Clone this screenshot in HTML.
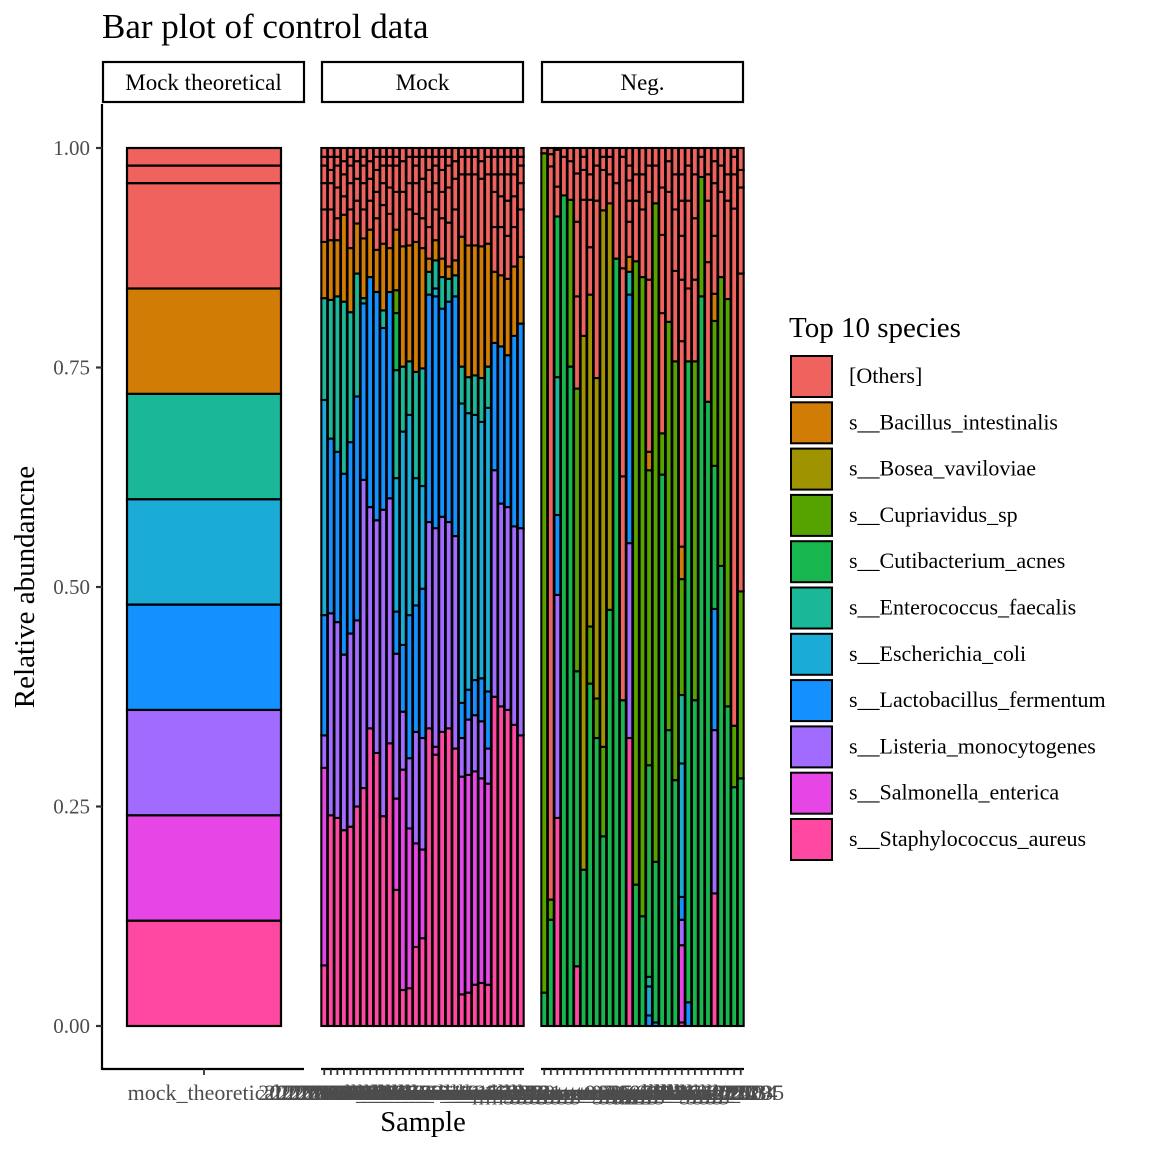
<!DOCTYPE html>
<html><head><meta charset="utf-8"><style>
html,body{margin:0;padding:0;background:#fff;}
svg{display:block;font-family:"Liberation Serif",serif;}
</style></head><body>
<svg id="chart" width="1152" height="1152" viewBox="0 0 1152 1152" xmlns="http://www.w3.org/2000/svg">
<text x="102" y="38" font-size="35" fill="#000">Bar plot of control data</text>
<g><rect x="103" y="62" width="201" height="40" fill="#fff" stroke="#000" stroke-width="2.2"/><text x="203.5" y="90" font-size="23" text-anchor="middle">Mock theoretical</text></g>
<g><rect x="322" y="62" width="201" height="40" fill="#fff" stroke="#000" stroke-width="2.2"/><text x="422.5" y="90" font-size="23" text-anchor="middle">Mock</text></g>
<g><rect x="542" y="62" width="201" height="40" fill="#fff" stroke="#000" stroke-width="2.2"/><text x="642.5" y="90" font-size="23" text-anchor="middle">Neg.</text></g>
<g id="yaxis"></g>
<g id="bars"></g>
<g id="xaxis"></g>
<text transform="translate(34,587) rotate(-90)" font-size="29" text-anchor="middle">Relative abundancne</text>
<text x="423" y="1131" font-size="28.5" text-anchor="middle">Sample</text>
<g id="legend"></g>
</svg>
<script>
const species = ["[Others]","s__Bacillus_intestinalis","s__Bosea_vaviloviae","s__Cupriavidus_sp","s__Cutibacterium_acnes","s__Enterococcus_faecalis","s__Escherichia_coli","s__Lactobacillus_fermentum","s__Listeria_monocytogenes","s__Salmonella_enterica","s__Staphylococcus_aureus"];
const colors = ["#F0625E","#D17C04","#A09300","#56A300","#18B64E","#1BB799","#1AABD6","#1490FF","#A26BFF","#E646E6","#FF48A2"];
const yTicks = [0,0.25,0.5,0.75,1];
const yTickLabels = ["0.00","0.25","0.50","0.75","1.00"];
// cumulative tops per bar: [speciesIndex, cumulativeAbundance]
const theoBars = [[[10,0.12],[9,0.24],[8,0.36],[7,0.48],[6,0.60],[5,0.72],[1,0.84],[0,0.96],[0,0.98],[0,1]]];
const theoLabels = ["mock_theoretical"];
const mockBars = [
[[10,0.069],[9,0.294],[8,0.331],[7,0.468],[6,0.713],[5,0.829],[1,0.893],[0,0.93],[0,0.96],[0,0.98],[0,0.99],[0,1]],
[[10,0.240],[8,0.470],[7,0.669],[5,0.827],[1,0.895],[0,0.93],[0,0.96],[0,0.975],[0,0.99],[0,1]],
[[10,0.237],[8,0.460],[7,0.654],[5,0.831],[1,0.895],[0,0.92],[0,0.955],[0,0.98],[0,0.99],[0,1]],
[[10,0.223],[8,0.423],[7,0.629],[5,0.825],[1,0.924],[0,0.945],[0,0.97],[0,0.985],[0,1]],
[[10,0.227],[8,0.447],[7,0.665],[5,0.813],[1,0.886],[0,0.93],[0,0.96],[0,0.98],[0,0.99],[0,1]],
[[10,0.250],[8,0.462],[7,0.717],[5,0.857],[1,0.914],[0,0.94],[0,0.965],[0,0.985],[0,1]],
[[10,0.271],[8,0.622],[7,0.823],[5,0.829],[1,0.897],[0,0.93],[0,0.96],[0,0.98],[0,0.99],[0,1]],
[[10,0.339],[8,0.591],[7,0.853],[1,0.907],[0,0.94],[0,0.965],[0,0.985],[0,1]],
[[10,0.311],[8,0.576],[7,0.836],[1,0.884],[0,0.92],[0,0.95],[0,0.975],[0,0.99],[0,1]],
[[10,0.239],[8,0.588],[7,0.795],[5,0.815],[1,0.891],[0,0.935],[0,0.96],[0,0.98],[0,0.99],[0,1]],
[[10,0.322],[8,0.601],[7,0.836],[1,0.886],[0,0.925],[0,0.955],[0,0.98],[0,0.99],[0,1]],
[[10,0.155],[9,0.259],[8,0.424],[7,0.472],[6,0.624],[5,0.747],[4,0.812],[3,0.838],[1,0.907],[0,0.95],[0,0.98],[0,0.99],[0,1]],
[[10,0.041],[9,0.292],[8,0.358],[7,0.434],[6,0.677],[5,0.751],[1,0.888],[0,0.95],[0,0.985],[0,1]],
[[10,0.043],[9,0.225],[8,0.305],[7,0.468],[6,0.696],[5,0.757],[1,0.889],[0,0.93],[0,0.96],[0,0.99],[0,1]],
[[10,0.090],[9,0.208],[8,0.335],[7,0.479],[6,0.624],[5,0.745],[1,0.893],[0,0.925],[0,0.96],[0,0.98],[0,0.99],[0,1]],
[[10,0.100],[9,0.201],[8,0.328],[7,0.498],[6,0.615],[5,0.749],[1,0.886],[0,0.92],[0,0.965],[0,0.99],[0,1]],
[[10,0.339],[8,0.574],[7,0.833],[5,0.859],[1,0.874],[0,0.91],[0,0.95],[0,0.975],[0,0.99],[0,1]],
[[10,0.309],[9,0.318],[8,0.567],[7,0.831],[6,0.840],[5,0.872],[1,0.895],[0,0.93],[0,0.96],[0,0.98],[0,0.99],[0,1]],
[[10,0.335],[8,0.580],[7,0.817],[5,0.853],[1,0.874],[0,0.92],[0,0.95],[0,0.975],[0,0.99],[0,1]],
[[10,0.339],[8,0.574],[7,0.825],[5,0.851],[1,0.865],[0,0.915],[0,0.955],[0,0.98],[0,0.99],[0,1]],
[[10,0.316],[8,0.558],[7,0.831],[5,0.855],[1,0.872],[0,0.93],[0,0.965],[0,0.985],[0,1]],
[[10,0.036],[9,0.284],[8,0.328],[7,0.368],[6,0.709],[5,0.751],[1,0.899],[0,0.97],[0,0.99],[0,1]],
[[10,0.038],[9,0.286],[8,0.349],[7,0.383],[6,0.698],[5,0.739],[1,0.889],[0,0.97],[0,0.99],[0,1]],
[[10,0.047],[9,0.290],[8,0.354],[7,0.394],[6,0.696],[5,0.741],[1,0.889],[0,0.97],[0,0.99],[0,1]],
[[10,0.049],[9,0.282],[8,0.347],[7,0.396],[6,0.688],[5,0.738],[1,0.888],[0,0.965],[0,0.985],[0,1]],
[[10,0.047],[9,0.276],[8,0.316],[7,0.381],[6,0.704],[5,0.751],[1,0.891],[0,0.97],[0,0.99],[0,1]],
[[10,0.375],[8,0.633],[7,0.778],[1,0.859],[0,0.91],[0,0.95],[0,0.97],[0,0.99],[0,1]],
[[10,0.364],[8,0.595],[7,0.774],[1,0.855],[0,0.91],[0,0.945],[0,0.97],[0,0.99],[0,1]],
[[10,0.360],[8,0.591],[7,0.764],[1,0.851],[0,0.90],[0,0.94],[0,0.97],[0,0.99],[0,1]],
[[10,0.343],[8,0.569],[7,0.786],[1,0.865],[0,0.91],[0,0.945],[0,0.97],[0,0.99],[0,1]],
[[10,0.331],[8,0.567],[7,0.800],[1,0.876],[0,0.93],[0,0.96],[0,0.98],[0,0.99],[0,1]]
];
const negBars = [
[[4,0.038],[3,0.994],[0,1]],
[[4,0.121],[3,0.144],[0,0.979],[0,0.993],[0,1]],
[[10,0.237],[8,0.491],[7,0.582],[5,0.739],[4,0.922],[0,0.956],[0,0.998],[0,1]],
[[4,0.946],[0,0.99],[0,1]],
[[4,0.751],[3,0.941],[0,0.985],[0,1]],
[[10,0.068],[4,0.404],[3,0.726],[0,0.831],[0,0.916],[0,0.971],[0,1]],
[[4,0.178],[2,0.786],[0,0.941],[0,0.975],[0,0.99],[0,1]],
[[4,0.390],[3,0.455],[2,0.833],[0,0.887],[0,0.941],[0,0.97],[0,1]],
[[4,0.328],[3,0.373],[2,0.738],[0,0.94],[0,0.98],[0,1]],
[[4,0.216],[3,0.318],[2,0.929],[0,0.975],[0,0.99],[0,1]],
[[4,0.474],[2,0.937],[0,0.97],[0,0.99],[0,1]],
[[4,0.874],[0,0.96],[0,1]],
[[4,0.371],[0,0.626],[0,0.863],[0,0.99],[0,1]],
[[10,0.328],[8,0.550],[7,0.833],[5,0.859],[1,0.876],[0,0.916],[0,0.94],[0,0.963],[0,0.98],[0,1]],
[[4,0.161],[3,0.871],[0,0.94],[0,0.97],[0,1]],
[[4,0.125],[3,0.853],[0,0.93],[0,0.97],[0,1]],
[[7,0.012],[6,0.045],[5,0.056],[4,0.297],[3,0.633],[1,0.654],[0,0.85],[0,0.95],[0,0.98],[0,1]],
[[7,0.004],[4,0.187],[3,0.937],[0,0.98],[0,1]],
[[4,0.628],[3,0.675],[0,0.812],[0,0.901],[0,0.955],[0,1]],
[[4,0.337],[3,0.802],[0,0.95],[0,0.985],[0,1]],
[[4,0.280],[3,0.757],[0,0.86],[0,0.93],[0,0.97],[0,1]],
[[10,0.004],[9,0.092],[8,0.121],[7,0.147],[6,0.299],[5,0.377],[3,0.509],[1,0.546],[0,0.78],[0,0.85],[0,0.9],[0,0.94],[0,0.97],[0,1]],
[[7,0.027],[4,0.757],[0,0.84],[0,0.94],[0,0.98],[0,1]],
[[4,0.371],[3,0.757],[0,0.85],[0,0.92],[0,0.97],[0,1]],
[[4,0.831],[3,0.967],[0,0.99],[0,1]],
[[4,0.711],[0,0.87],[0,0.94],[0,0.97],[0,1]],
[[10,0.151],[8,0.337],[7,0.475],[4,0.638],[3,0.803],[1,0.834],[0,0.9],[0,0.96],[0,0.985],[0,1]],
[[4,0.524],[3,0.853],[0,0.95],[0,0.98],[0,1]],
[[4,0.364],[3,0.828],[0,0.94],[0,0.97],[0,1]],
[[4,0.272],[3,0.342],[0,0.931],[0,0.97],[0,0.99],[0,1]],
[[4,0.282],[3,0.495],[0,0.857],[0,0.955],[0,0.975],[0,1]]
];
const mockLabels = ["2021MOCK01","2021MOCK02","2021MOCK03","2021MOCK04","2021MOCK05","2021MOCK06","2021MOCK07","2021MOCK08","2021MOCK09","2021MOCK10","mock_illumina_11","mock_illumina_12","mock_illumina_13","mock_illumina_14","mock_illumina_15","mock_illumina_16","mock_miniseq_17","mock_miniseq_18","mock_miniseq_19","mock_miniseq_20","mock_miniseq_21","mock_run_22","mock_run_23","mock_run_24","mock_run_25","mock_run_26","mock_27","mock_28","mock_29","mock_30","mock_31"];
const negLabels = ["neg_water_01","neg_water_02","neg_water_03","neg_water_04","neg_water_05","neg_water_06","neg_extract_07","neg_extract_08","neg_extract_09","neg_extract_10","neg_extract_11","neg_extract_12","neg_pcr_13","neg_pcr_14","neg_pcr_15","neg_pcr_16","neg_pcr_17","neg_pcr_18","neg_blank_19","neg_blank_20","neg_blank_21","neg_blank_22","neg_blank_23","neg_blank_24","neg_2025","neg_2026","neg_2027","neg_2028","neg_2029","neg_2034","neg_2035"];

const NS="http://www.w3.org/2000/svg";
const Y0=1026, YH=878;
function yScale(v){return Y0-YH*v;}
function mk(tag,attrs,parent){const e=document.createElementNS(NS,tag);for(const k in attrs)e.setAttribute(k,attrs[k]);parent.appendChild(e);return e;}

const yax=document.getElementById('yaxis');
mk('line',{x1:102,y1:104,x2:102,y2:1070,stroke:'#000','stroke-width':2.2},yax);
yTicks.forEach((t,i)=>{
  const tk=mk('line',{x1:96,x2:102,y1:yScale(t),y2:yScale(t),stroke:'#333','stroke-width':2.2},yax);
  
  
  const tl=mk('text',{x:90,y:yScale(t)+7,'font-size':21,'text-anchor':'end',fill:'#4D4D4D'},yax);
  tl.textContent=yTickLabels[i];
  
  
});

const barsG=document.getElementById('bars');
const xax=document.getElementById('xaxis');
function panel(bars,labels,x0,x1,bx0,bx1,name){
  const n=bars.length;
  const slot=(bx1-bx0)/n;
  const bw=n===1?(bx1-bx0):slot*0.9;
  mk('line',{x1:x0,x2:x1,y1:1069,y2:1069,stroke:'#000','stroke-width':2.2},xax);
  bars.forEach((bar,i)=>{
    const cx=bx0+slot*(i+0.5);
    let prev=0;
    bar.forEach(seg=>{
      const r=mk('rect',{x:cx-bw/2,y:yScale(seg[1]),width:bw,height:Math.max(0,yScale(prev)-yScale(seg[1])),fill:colors[seg[0]],stroke:'#000','stroke-width':n===1?2.2:2.1},barsG);
      
      
      prev=seg[1];
    });
    const tk=mk('line',{x1:cx,x2:cx,y1:1069,y2:1075,stroke:'#333','stroke-width':1.8},xax);
    
    
    const tl=mk('text',{x:cx,y:1100,'font-size':22,'text-anchor':'middle',fill:'#4D4D4D'},xax);
    tl.textContent=labels[i];
    
    
  });
}
panel(theoBars,theoLabels,102,304,127,281,'theoretical');
panel(mockBars,mockLabels,321,524,321,524,'mock');
panel(negBars,negLabels,541,744,541,744,'neg');

const lg=document.getElementById('legend');
const lt=mk('text',{x:789,y:337,'font-size':29},lg);
lt.textContent='Top 10 species';


species.forEach((s,i)=>{
  const y=356+i*46.3;
  const g=mk('g',{},lg);
  
  
  mk('rect',{x:791,y:y,width:41,height:41,fill:colors[i],stroke:'#000','stroke-width':2},g);
  const t=mk('text',{x:849,y:y+27,'font-size':22},g);
  t.textContent=s;
});
</script>
</body></html>
